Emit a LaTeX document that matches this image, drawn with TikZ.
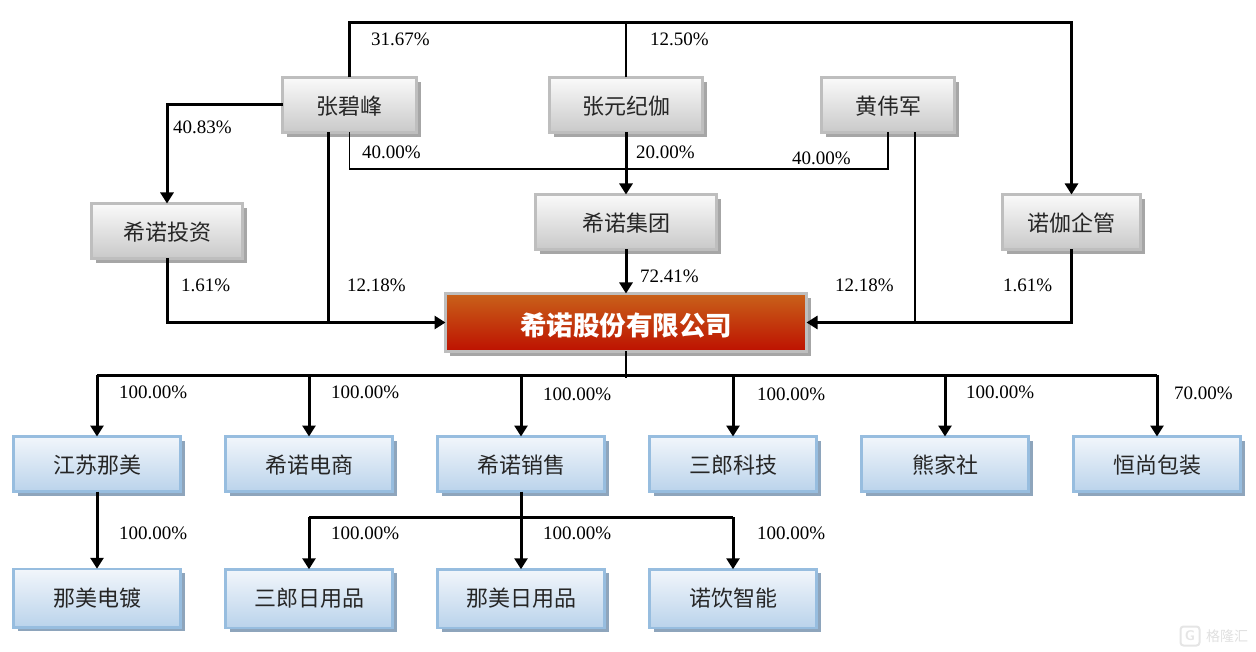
\documentclass[tikz,border=0pt]{standalone}
\usepackage{fontspec}
\setmainfont{Liberation Serif}
\newfontfamily\cjk{Noto Sans CJK SC}
\usetikzlibrary{arrows.meta,shadows,calc}
\definecolor{graytop}{HTML}{FAFAFA}
\definecolor{graybot}{HTML}{C9C9C9}
\definecolor{grayline}{HTML}{BEBEBE}
\definecolor{grayshade}{HTML}{A6A6A6}
\definecolor{bluetop}{HTML}{F2F6FB}
\definecolor{bluebot}{HTML}{BAD3EB}
\definecolor{blueline}{HTML}{97BDDF}
\definecolor{blueshade}{HTML}{8EA5BC}
\definecolor{redtop}{HTML}{C9621A}
\definecolor{redbot}{HTML}{BD1100}
\definecolor{inkgray}{HTML}{262626}
\tikzset{
    basebox/.style={rectangle, inner sep=0pt, outer sep=0pt, line width=2.5pt, text=inkgray,
        font=\cjk\fontsize{22}{24}\selectfont, minimum height=55pt, text height=20.5pt, text depth=1.7pt},
    person/.style={basebox, draw=grayline, top color=graytop, bottom color=graybot,
        general shadow={shadow xshift=4pt, shadow yshift=-5pt, fill=grayshade, opacity=1}},
    sub/.style={basebox, draw=blueline, top color=bluetop, bottom color=bluebot, minimum width=167pt,
        general shadow={shadow xshift=4pt, shadow yshift=-4pt, fill=blueshade, opacity=1}},
    sublow/.style={sub, minimum height=58.5pt, text height=19.4pt, text depth=2.6pt},
    main/.style={basebox, draw=grayline, top color=redtop, bottom color=redbot, text=white,
        font=\cjk\bfseries\fontsize{26.5}{28}\selectfont, minimum width=361pt, minimum height=58pt,
        text height=27pt, text depth=1pt,
        general shadow={shadow xshift=4pt, shadow yshift=-5pt, fill=grayshade, opacity=1}},
    pct/.style={anchor=west, inner sep=0pt, font=\fontsize{19}{21}\selectfont},
    holding/.style={-{Triangle[length=11pt, width=13pt]}, line width=3pt},
    busline/.style={line width=3pt},
    thinline/.style={line width=1.5pt}
}
\begin{document}
\begin{tikzpicture}[x=1pt, y=-1pt]
    \useasboundingbox (0,0) rectangle (1256,652);
    % junctions
    \coordinate (top) at (626,23);
    \coordinate (mid) at (626,169);
    \coordinate (busl) at (328,322);
    \coordinate (busr) at (915,322);
    \coordinate (stub) at (626,378);
    \coordinate (bus) at (626,375);
    \coordinate (bus2) at (521,517);

    % shareholders
    \node[person, minimum width=134pt] (zhangbf) at (349.5,105) {张碧峰};
    \node[person, minimum width=153pt] (zhangyj) at (626,105) {张元纪伽};
    \node[person, minimum width=133pt] (huangwj) at (888,105) {黄伟军};
    \node[person, minimum width=151pt] (touzi) at (167,231) {希诺投资};
    \node[person, minimum width=181pt] (jituan) at (626,222) {希诺集团};
    \node[person, minimum width=138pt] (qiguan) at (1071.5,222) {诺伽企管};
    \node[main] (xinuo) at (626,322.5) {希诺股份有限公司};

    % subsidiaries
    \node[sub] (jiangsu) at (97,464) {江苏那美};
    \node[sub] (dianshang) at (309,464) {希诺电商};
    \node[sub] (xiaoshou) at (521,464) {希诺销售};
    \node[sub] (keji) at (733,464) {三郎科技};
    \node[sub] (xiongjia) at (945,464) {熊家社};
    \node[sub] (hengshang) at (1157,464) {恒尚包装};
    \node[sublow] (diandu) at (97,598) {那美电镀};
    \node[sublow] (sanlang) at (309,598.5) {三郎日用品};
    \node[sublow] (riyong) at (521,598.5) {那美日用品};
    \node[sublow] (zhineng) at (733,598.5) {诺饮智能};

    % upper connectors
    \draw[holding] (zhangbf.north) |- (top) -| (qiguan.north);
    \draw[thinline] (zhangyj.north) -- (top);
    \draw[holding] (zhangbf.west) -| (touzi.north);
    \draw[thinline] (zhangbf.south) |- (mid) -| (huangwj.south);
    \draw[holding] (zhangyj.south) -- (jituan.north);
    \draw[holding] (jituan.south) -- (xinuo.north);
    \draw[busline] (zhangbf.south -| busl) -- (busl);
    \draw[thinline] (huangwj.south -| busr) -- (busr);
    \draw[holding] (touzi.south) |- (xinuo.west);
    \draw[holding] (qiguan.south) |- (xinuo.east);

    % lower connectors
    \draw[thinline] (xinuo.south) -- (stub);
    \draw[busline] (jiangsu.north |- bus) -- (hengshang.north |- bus);
    \foreach \sname in {jiangsu,dianshang,xiaoshou,keji,xiongjia,hengshang}
        \draw[holding] (bus -| \sname.north) -- (\sname.north);
    \draw[holding] (jiangsu.south) -- (diandu.north);
    \draw[busline] (xiaoshou.south) -- (bus2);
    \draw[busline] (bus2 -| sanlang.north) -- (bus2 -| zhineng.north);
    \foreach \sname in {sanlang,riyong,zhineng}
        \draw[holding] (bus2 -| \sname.north) -- (\sname.north);

    % percentages
    \node[pct] (p1) at (371,39) {31.67\%};
    \node[pct] (p2) at (650,39) {12.50\%};
    \node[pct] (p3) at (173,127) {40.83\%};
    \node[pct] (p4) at (362,152) {40.00\%};
    \node[pct] (p5) at (636,152) {20.00\%};
    \node[pct] (p6) at (792,158) {40.00\%};
    \node[pct] (p7) at (181,285) {1.61\%};
    \node[pct] (p8) at (347,285) {12.18\%};
    \node[pct] (p9) at (640,276) {72.41\%};
    \node[pct] (p10) at (835,285) {12.18\%};
    \node[pct] (p11) at (1003,285) {1.61\%};
    \node[pct] (p12) at (119,392) {100.00\%};
    \node[pct] (p13) at (331,392) {100.00\%};
    \node[pct] (p14) at (543,394) {100.00\%};
    \node[pct] (p15) at (757,394) {100.00\%};
    \node[pct] (p16) at (966,392) {100.00\%};
    \node[pct] (p17) at (1174,393) {70.00\%};
    \node[pct] (p18) at (119,533) {100.00\%};
    \node[pct] (p19) at (331,533) {100.00\%};
    \node[pct] (p20) at (543,533) {100.00\%};
    \node[pct] (p21) at (757,533) {100.00\%};

    % watermark
    \node[draw=black!10, line width=2pt, rounded corners=3pt, text=black!10, minimum size=19pt, inner sep=0pt,
        font=\sffamily\bfseries\fontsize{14}{14}\selectfont] (logo) at (1190,636) {G};
    \node[anchor=west, text=black!12, inner sep=0pt, font=\cjk\fontsize{14}{14}\selectfont] (mark) at (1206,636) {格隆汇};
\end{tikzpicture}
\end{document}
